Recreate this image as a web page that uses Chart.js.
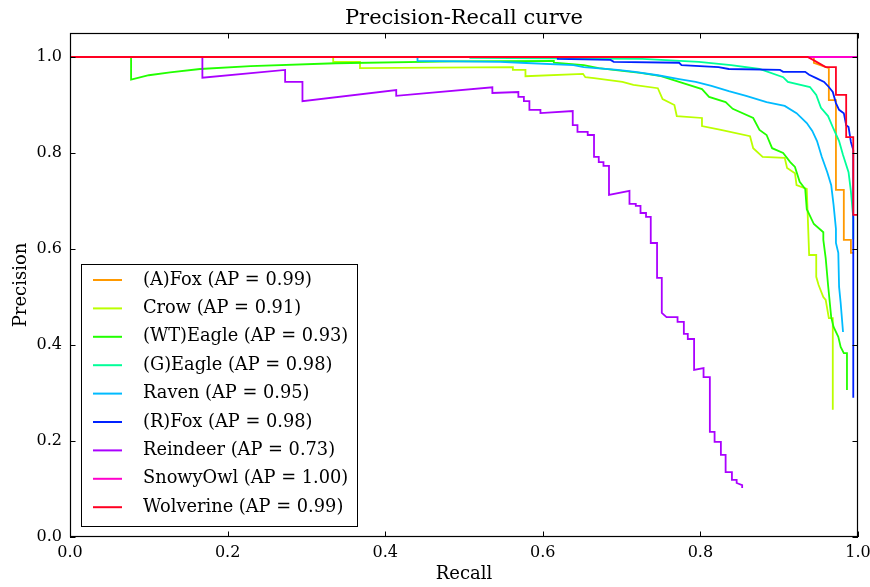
<!DOCTYPE html>
<html lang="en">
<head>
<meta charset="UTF-8">
<title>Precision-Recall curve</title>
<script src="https://cdn.jsdelivr.net/npm/chart.js"></script>
<style>
    html, body { margin: 0; padding: 0; background: #fff; }
    #wrap { width: 870px; height: 587px; }
</style>
</head>
<body>
<div id="wrap"><canvas id="prChart" width="870" height="587"></canvas></div>
<script>
// classes, AP scores and colours, in legend order
const classNames = ['(A)Fox', 'Crow', '(WT)Eagle', '(G)Eagle', 'Raven', '(R)Fox', 'Reindeer', 'SnowyOwl', 'Wolverine'];
const apScores = [0.99, 0.91, 0.93, 0.98, 0.95, 0.98, 0.73, 1.00, 0.99];
const lineColors = ['#ff9900', '#bbff00', '#22ff00', '#00ff99', '#00bbff', '#0022ff', '#aa00ff', '#ff00cc', '#ff0022'];

const xTicks = [0, 0.2, 0.4, 0.6, 0.8, 1.0];
const yTicks = [0, 0.2, 0.4, 0.6, 0.8, 1.0];

// curves as [recall, precision]
const foxA = [[0,1],[0.944,1],[0.944,0.988],[0.963,0.977],[0.963,0.91],[0.972,0.91],[0.972,0.723],[0.982,0.723],[0.982,0.619],[0.991,0.619],[0.991,0.592],[0.995,0.592]];
const crow = [[0,1],[0.334,1],[0.334,0.99],[0.368,0.99],[0.368,0.977],[0.562,0.979],[0.562,0.973],[0.578,0.973],[0.578,0.96],[0.651,0.965],[0.654,0.958],[0.665,0.956],[0.701,0.948],[0.715,0.942],[0.746,0.935],[0.752,0.9125],[0.767,0.9],[0.77,0.877],[0.802,0.873],[0.802,0.856],[0.826,0.848],[0.863,0.835],[0.867,0.81],[0.879,0.792],[0.907,0.79],[0.91,0.769],[0.92,0.758],[0.922,0.733],[0.935,0.725],[0.938,0.5875],[0.947,0.5875],[0.947,0.542],[0.95,0.525],[0.956,0.5],[0.959,0.494],[0.963,0.456],[0.968,0.456],[0.968,0.265]];
const eagleWT = [[0,1],[0.0775,1],[0.0775,0.953],[0.1,0.962],[0.127,0.968],[0.165,0.975],[0.229,0.981],[0.337,0.987],[0.487,0.991],[0.614,0.992],[0.614,0.988],[0.652,0.983],[0.671,0.977],[0.701,0.971],[0.724,0.967],[0.75,0.96],[0.773,0.948],[0.802,0.933],[0.811,0.917],[0.832,0.906],[0.841,0.892],[0.867,0.873],[0.875,0.848],[0.884,0.8375],[0.891,0.81],[0.905,0.8],[0.914,0.781],[0.92,0.771],[0.926,0.74],[0.933,0.725],[0.935,0.683],[0.944,0.652],[0.956,0.635],[0.956,0.619],[0.959,0.581],[0.962,0.525],[0.966,0.458],[0.969,0.4375],[0.975,0.417],[0.978,0.396],[0.982,0.383],[0.986,0.383],[0.986,0.306]];
const eagleG = [[0,1],[0.508,1],[0.508,0.998],[0.726,0.996],[0.798,0.99],[0.839,0.983],[0.875,0.975],[0.905,0.958],[0.911,0.948],[0.939,0.9375],[0.947,0.921],[0.953,0.894],[0.962,0.877],[0.969,0.85],[0.976,0.825],[0.981,0.796],[0.988,0.76],[0.991,0.72],[0.994,0.665],[0.994,0.62]];
const raven = [[0,1],[0.441,1],[0.441,0.992],[0.546,0.99],[0.572,0.988],[0.639,0.983],[0.652,0.979],[0.695,0.973],[0.717,0.969],[0.746,0.962],[0.773,0.954],[0.794,0.948],[0.814,0.94],[0.836,0.929],[0.858,0.919],[0.884,0.906],[0.907,0.898],[0.922,0.883],[0.935,0.8625],[0.942,0.846],[0.948,0.825],[0.954,0.792],[0.961,0.76],[0.966,0.733],[0.969,0.692],[0.972,0.642],[0.972,0.6125],[0.975,0.592],[0.976,0.521],[0.978,0.4875],[0.981,0.427]];
const foxR = [[0,1],[0.619,1],[0.619,0.996],[0.686,0.994],[0.69,0.99],[0.773,0.988],[0.776,0.983],[0.823,0.979],[0.836,0.975],[0.901,0.973],[0.905,0.969],[0.933,0.969],[0.938,0.963],[0.947,0.956],[0.957,0.948],[0.963,0.9375],[0.968,0.927],[0.972,0.904],[0.976,0.89],[0.982,0.883],[0.985,0.858],[0.988,0.854],[0.991,0.823],[0.994,0.806],[0.994,0.29]];
const reindeer = [[0,1],[0.168,1],[0.168,0.957],[0.273,0.973],[0.273,0.948],[0.295,0.948],[0.295,0.908],[0.414,0.931],[0.414,0.919],[0.536,0.937],[0.536,0.925],[0.569,0.927],[0.569,0.917],[0.576,0.917],[0.576,0.908],[0.583,0.908],[0.583,0.89],[0.597,0.89],[0.597,0.883],[0.638,0.8875],[0.638,0.858],[0.644,0.858],[0.644,0.844],[0.657,0.844],[0.657,0.8375],[0.665,0.8375],[0.665,0.792],[0.671,0.792],[0.671,0.781],[0.677,0.781],[0.677,0.773],[0.684,0.773],[0.684,0.7125],[0.71,0.721],[0.71,0.694],[0.718,0.694],[0.718,0.69],[0.724,0.69],[0.724,0.675],[0.731,0.675],[0.731,0.667],[0.737,0.667],[0.737,0.6125],[0.745,0.6125],[0.745,0.54],[0.751,0.54],[0.751,0.467],[0.757,0.458],[0.771,0.458],[0.771,0.448],[0.779,0.448],[0.779,0.423],[0.784,0.423],[0.784,0.4125],[0.792,0.4125],[0.792,0.348],[0.804,0.352],[0.804,0.333],[0.812,0.333],[0.812,0.219],[0.818,0.219],[0.818,0.198],[0.826,0.198],[0.826,0.171],[0.832,0.171],[0.832,0.135],[0.84,0.135],[0.84,0.119],[0.846,0.119],[0.846,0.1125],[0.853,0.108],[0.853,0.102]];
const snowyOwl = [[0,1],[1,1],[1,0.042]];
const wolverine = [[0,1],[0.936,1],[0.943,0.994],[0.959,0.979],[0.972,0.979],[0.972,0.921],[0.985,0.921],[0.985,0.833],[0.994,0.833],[0.994,0.671],[1,0.671],[1,0.269]];

const curves = [foxA, crow, eagleWT, eagleG, raven, foxR, reindeer, snowyOwl, wolverine];

Chart.defaults.font.family = "'DejaVu Serif', serif";
Chart.defaults.color = '#000';

// box around the axes plus inward ticks on all four sides
const framePlugin = {
    id: 'frame',
    afterDatasetsDraw(chart) {
        const { ctx, chartArea: a, scales: { x, y } } = chart;
        const len = 5.5;
        ctx.save();
        ctx.strokeStyle = '#000';
        ctx.lineWidth = 1;
        ctx.beginPath();
        x.ticks.forEach(t => {
            const px = Math.round(x.getPixelForValue(t.value)) + 0.5;
            ctx.moveTo(px, a.bottom); ctx.lineTo(px, a.bottom - len);
            ctx.moveTo(px, a.top); ctx.lineTo(px, a.top + len);
        });
        y.ticks.forEach(t => {
            const py = Math.round(y.getPixelForValue(t.value)) + 0.5;
            ctx.moveTo(a.left, py); ctx.lineTo(a.left + len, py);
            ctx.moveTo(a.right, py); ctx.lineTo(a.right - len, py);
        });
        ctx.stroke();
        ctx.lineWidth = 1.2;
        ctx.strokeRect(Math.round(a.left) + 0.5, Math.round(a.top) + 0.5,
            Math.round(a.right - a.left) - 1, Math.round(a.bottom - a.top) - 1);
        ctx.restore();
    }
};

// legend box in the lower left corner of the axes
const boxLegend = {
    id: 'boxLegend',
    afterDraw(chart) {
        const { ctx, chartArea: a } = chart;
        const sets = chart.data.datasets;
        const left = a.left + 11, top = a.top + 231, w = 276, h = 262;
        const rowH = 28.4;
        ctx.save();
        ctx.fillStyle = '#fff';
        ctx.fillRect(left, top, w, h);
        ctx.strokeStyle = '#000';
        ctx.lineWidth = 1;
        ctx.strokeRect(left + 0.5, top + 0.5, w, h);
        ctx.font = "17.8px 'DejaVu Serif', serif";
        ctx.textBaseline = 'middle';
        ctx.fillStyle = '#000';
        sets.forEach((ds, i) => {
            const cy = top + 16 + i * rowH;
            ctx.strokeStyle = ds.borderColor;
            ctx.lineWidth = 2;
            ctx.beginPath();
            ctx.moveTo(left + 12, cy);
            ctx.lineTo(left + 41, cy);
            ctx.stroke();
            ctx.fillText(ds.label, left + 62, cy);
        });
        ctx.restore();
    }
};

// later curves are drawn on top, as in the original plot
const datasets = curves.map((pts, i) => ({
    label: classNames[i] + ' (AP = ' + apScores[i].toFixed(2) + ')',
    data: pts.map(p => ({ x: p[0], y: p[1] })),
    borderColor: lineColors[i],
    backgroundColor: lineColors[i],
    borderWidth: 1.8,
    showLine: true,
    pointRadius: 0,
    tension: 0,
    fill: false,
    order: curves.length - i
}));

new Chart(document.getElementById('prChart'), {
    type: 'scatter',
    data: { datasets: datasets },
    options: {
        responsive: false,
        animation: false,
        devicePixelRatio: 1,
        layout: { autoPadding: false, padding: { left: 0, right: 12, top: 0, bottom: 0 } },
        plugins: {
            legend: { display: false },
            tooltip: { enabled: false },
            title: {
                display: true,
                text: 'Precision-Recall curve',
                fullSize: false,
                font: { size: 21, weight: 'normal', lineHeight: 1.25 },
                padding: { top: 5, bottom: 1.75 }
            }
        },
        scales: {
            x: {
                type: 'linear',
                min: 0,
                max: 1,
                grid: { display: false, drawTicks: false },
                border: { display: false },
                afterBuildTicks: s => { s.ticks = xTicks.map(v => ({ value: v })); },
                afterFit: s => { s.height = 50; s.paddingLeft = 0; s.paddingRight = 0; },
                ticks: {
                    autoSkip: false,
                    maxRotation: 0,
                    padding: 6,
                    font: { size: 16 },
                    callback: v => Number(v).toFixed(1)
                },
                title: { display: true, text: 'Recall', font: { size: 18 }, padding: { top: 2, bottom: 2 } }
            },
            y: {
                type: 'linear',
                min: 0,
                max: 1.05,
                grid: { display: false, drawTicks: false },
                border: { display: false },
                afterBuildTicks: s => { s.ticks = yTicks.map(v => ({ value: v })); },
                afterFit: s => { s.width = 70; s.paddingTop = 0; s.paddingBottom = 0; },
                ticks: {
                    autoSkip: false,
                    padding: 8,
                    font: { size: 16 },
                    callback: v => Number(v).toFixed(1)
                },
                title: { display: true, text: 'Precision', font: { size: 18 }, padding: { top: 11, bottom: 11 } }
            }
        }
    },
    plugins: [framePlugin, boxLegend]
});
</script>
</body>
</html>
